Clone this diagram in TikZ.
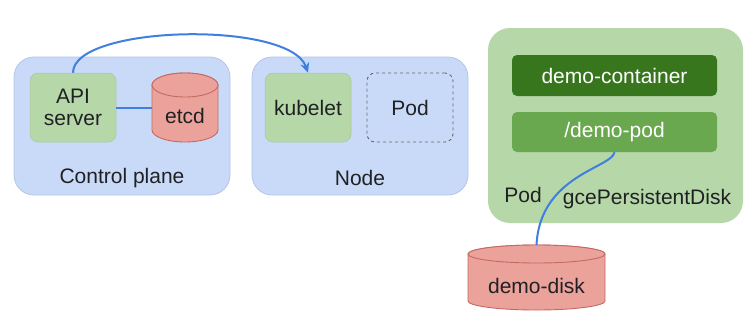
\documentclass[tikz,border=0pt]{standalone}
\usepackage{fontspec}
\setmainfont{Liberation Sans}
\usetikzlibrary{arrows.meta}
\definecolor{panelblue}{HTML}{C9DAF8}
\definecolor{panelblueline}{HTML}{B3C6E6}
\definecolor{lightgreen}{HTML}{B6D7A8}
\definecolor{midgreen}{HTML}{6AA84F}
\definecolor{darkgreen}{HTML}{38761D}
\definecolor{diskfill}{HTML}{EBA29B}
\definecolor{diskline}{HTML}{C46A63}
\definecolor{wire}{HTML}{3F7FE0}
\definecolor{ink}{HTML}{202124}
\tikzset{
  panel/.style={fill=panelblue, draw=panelblueline, line width=0.8pt, rounded corners=20pt},
  greenbox/.style={fill=lightgreen, draw=lightgreen!92!black, line width=0.5pt, rounded corners=8pt,
    minimum width=86pt, minimum height=69pt, align=center, text=ink},
  dashbox/.style={draw=gray!80!black, dashed, line width=0.9pt, rounded corners=8pt,
    minimum width=86pt, minimum height=69pt, text=ink},
  bar/.style={rounded corners=5pt, minimum width=205pt, text=white},
  disk/.style={fill=diskfill, draw=diskline, line width=0.9pt},
  lbl/.style={text=ink, inner sep=0pt},
  wireline/.style={draw=wire, line width=2pt},
}
\begin{document}
\begin{tikzpicture}[x=1pt, y=-1pt, font=\fontsize{21}{25}\selectfont]
\useasboundingbox (0,0) rectangle (754,322);

% Control plane panel
\node[panel, minimum width=216pt, minimum height=138pt] (cp) at (122,126) {};
\node[greenbox] (api) at (73,107.5) {API\\[-3pt]server};
% etcd cylinder
\node[minimum width=66pt, minimum height=69pt, inner sep=0pt] (etcd) at (185,107.5) {};
\draw[disk] (152,85) -- (152,130) arc[start angle=180, end angle=0, x radius=33, y radius=12]
  -- (218,85) arc[start angle=0, end angle=-180, x radius=33, y radius=12] -- cycle;
\draw[disk] (185,85) ellipse[x radius=33, y radius=12];
\node[lbl] (etcdtxt) at (185,116) {etcd};
\node[lbl] (cplabel) at (122,178) {Control plane};

% Worker node panel
\node[panel, minimum width=216pt, minimum height=138pt] (node) at (360,126) {};
\node[greenbox] (kub) at (308,107.5) {kubelet};
\node[dashbox] (pod) at (410,107.5) {Pod};
\node[lbl] (nodelabel) at (360,178) {Node};

% Pod with its volume
\node[fill=lightgreen, rounded corners=22pt, minimum width=255pt, minimum height=195pt] (podbig) at (615.5,125.5) {};
\node[bar, fill=darkgreen, minimum height=41pt] (cont) at (614.5,75.5) {demo-container};
\node[bar, fill=midgreen, minimum height=40pt] (dpod) at (614.5,132) {/demo-pod};
\node[lbl] (podlabel) at (523,195) {Pod};
\node[lbl] (gce) at (647,199) {gcePersistentDisk};

% demo-disk cylinder
\node[minimum width=137pt, minimum height=65pt, inner sep=0pt] (disk) at (536.5,277.5) {};
\draw[disk] (468,254) -- (468,301) arc[start angle=180, end angle=0, x radius=68.5, y radius=9]
  -- (605,254) arc[start angle=0, end angle=-180, x radius=68.5, y radius=9] -- cycle;
\draw[disk] (536.5,254) ellipse[x radius=68.5, y radius=9];
\node[lbl] (disktxt) at (536.5,286) {demo-disk};

% Connectors
\draw[wireline] (api.east) -- (etcd.west);
\draw[wireline, -{Stealth[length=10pt, width=9pt]}] (api.north) .. controls (73,25) and (290,20) .. (kub.north);
\draw[wireline] (dpod.south) .. controls (612,168) and (540,175) .. (536.5,245);
\end{tikzpicture}
\end{document}
